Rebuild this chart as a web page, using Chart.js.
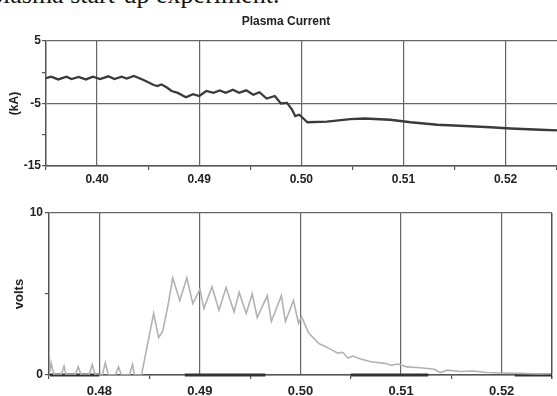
<!DOCTYPE html>
<html>
<head>
<meta charset="utf-8">
<title>Plasma Current</title>
<script src="https://cdn.jsdelivr.net/npm/chart.js@4.4.1/dist/chart.umd.min.js"></script>
<style>
  html, body { margin: 0; padding: 0; background: #fff; overflow: hidden; }
  body { width: 557px; height: 396px; position: relative; }
  .caption { position: absolute; left: -10px; top: -18px; font: 26px "Liberation Serif", serif; line-height: 26px; color: #111; white-space: nowrap; }
  #currentChart { position: absolute; left: 0; top: 0; }
  #voltChart { position: absolute; left: 0; top: 196px; }
</style>
</head>
<body>
<div class="caption">plasma start-up experiment.</div>
<canvas id="currentChart" width="572" height="196"></canvas>
<canvas id="voltChart" width="557" height="200"></canvas>
<script>
// === DATA ===
const xMajor = [0.48, 0.49, 0.50, 0.51, 0.52];
const xMinor = [0.475, 0.485, 0.495, 0.505, 0.515, 0.525];
const topXLabels = ["0.40", "0.49", "0.50", "0.51", "0.52"];
const bottomXLabels = ["0.48", "0.49", "0.50", "0.51", "0.52"];

const currentTicks = [-15, -10, -5, 0, 5];
const currentLabels = ["-15", "", "-5", "", "5"];
const voltTicks = [0, 5, 10];
const voltLabels = ["0", "", "10"];

// plasma current (kA) vs time (s)
const currentTime = [0.4750, 0.4755, 0.4762, 0.4770, 0.4775, 0.4782, 0.4789, 0.4796, 0.4803, 0.4811,
  0.4817, 0.4824, 0.4829, 0.4836, 0.4845, 0.4855, 0.4859, 0.4863, 0.4868, 0.4873,
  0.4879, 0.4887, 0.4894, 0.4900, 0.4907, 0.4914, 0.4920, 0.4926, 0.4933, 0.4939,
  0.4946, 0.4953, 0.4959, 0.4966, 0.4974, 0.4980, 0.4986, 0.4991, 0.4994, 0.4998,
  0.5002, 0.5006, 0.5025, 0.5048, 0.5062, 0.5087, 0.5107, 0.5133, 0.5160, 0.5185,
  0.5205, 0.5234, 0.5251];
const current = [-0.95, -0.7, -1.15, -0.7, -1.1, -0.75, -1.15, -0.7, -1.1, -0.65,
  -1.1, -0.7, -1.0, -0.6, -1.2, -2.0, -2.2, -1.95, -2.4, -3.0,
  -3.3, -4.0, -3.5, -3.8, -3.0, -3.3, -2.9, -3.3, -2.8, -3.3,
  -2.9, -3.6, -3.2, -4.2, -3.8, -5.0, -4.9, -6.0, -7.0, -6.8,
  -7.4, -8.0, -7.9, -7.5, -7.4, -7.6, -8.0, -8.4, -8.6, -8.8,
  -9.0, -9.2, -9.3];

// loop voltage (volts) vs time (s)
const voltTime = [0.4751, 0.4752, 0.4755, 0.4762, 0.4765, 0.4767, 0.4776, 0.4779, 0.4782, 0.4790,
  0.4793, 0.4796, 0.4803, 0.4806, 0.4809, 0.4816, 0.4819, 0.4822, 0.4830, 0.4833,
  0.4835, 0.4842, 0.4847, 0.4854, 0.4859, 0.4863, 0.4868, 0.4873, 0.4880, 0.4887,
  0.4893, 0.4900, 0.4904, 0.4912, 0.4919, 0.4926, 0.4934, 0.4939, 0.4946, 0.4952,
  0.4957, 0.4967, 0.4971, 0.4981, 0.4985, 0.4993, 0.4998, 0.5001, 0.5008, 0.5018,
  0.5025, 0.5031, 0.5037, 0.5042, 0.5047, 0.5052, 0.5059, 0.5070, 0.5084, 0.5090,
  0.5097, 0.5106, 0.5119, 0.5133, 0.5139, 0.5146, 0.5159, 0.5172, 0.5185, 0.5198,
  0.5218, 0.5237, 0.5249];
const volts = [0.2, 0.75, 0, 0, 0.55, 0, 0, 0.5, 0, 0,
  0.65, 0, 0, 0.75, 0, 0, 0.5, 0, 0, 0.65,
  0, 0, 1.6, 3.8, 2.3, 2.7, 4.2, 6.0, 4.6, 6.0,
  4.4, 5.3, 4.1, 5.45, 4.0, 5.4, 3.9, 5.1, 3.8, 5.0,
  3.55, 4.9, 3.3, 4.9, 3.3, 4.6, 3.2, 3.6, 2.6, 1.95,
  1.75, 1.55, 1.35, 1.4, 1.05, 1.17, 1.0, 0.82, 0.72, 0.6,
  0.68, 0.5, 0.45, 0.35, 0.15, 0.3, 0.22, 0.25, 0.15, 0.12,
  0.1, 0.06, 0.08];

// dark trace lying on the zero line (start, end in s)
const baseSegments = [[0.4751, 0.4800], [0.4885, 0.4965], [0.5050, 0.5127], [0.5213, 0.5250]];

// === STYLE HELPERS ===
const FONT = "'Liberation Sans', Arial, sans-serif";
const axisColor = "#555";
const gridColor = "#666";
const near = (a, b) => Math.abs(a - b) < 1e-6;
const xTicks = xMinor.concat(xMajor).sort((a, b) => a - b);

function xAxis(labels, max, height, size, pad, edgeLine) {
  return {
    type: "linear",
    min: 0.475,
    max: max,
    afterBuildTicks: axis => { axis.ticks = xTicks.map(v => ({ value: v })); },
    afterFit: axis => { axis.height = height; },
    border: { color: axisColor, width: 1.5 },
    grid: {
      color: c => {
        const v = c.tick ? c.tick.value : 0;
        if (xMajor.some(m => near(m, v))) return gridColor;
        if (edgeLine && near(v, 0.525)) return axisColor;
        return "transparent";
      },
      lineWidth: c => (c.tick && near(c.tick.value, 0.525)) ? 1.5 : 1.2,
      tickLength: 4,
      tickColor: c => (c.tick && xMinor.some(m => near(m, c.tick.value))) ? axisColor : "transparent"
    },
    ticks: {
      autoSkip: false,
      maxRotation: 0,
      padding: pad,
      color: "#222",
      font: { family: FONT, size: size, weight: "bold" },
      callback: value => {
        const i = xMajor.findIndex(m => near(m, value));
        return i >= 0 ? labels[i] : "";
      }
    }
  };
}

function yAxis(ticks, labels, title, titleSize, titlePad, width, pad) {
  return {
    min: ticks[0],
    max: ticks[ticks.length - 1],
    afterBuildTicks: axis => { axis.ticks = ticks.map(v => ({ value: v })); },
    afterFit: axis => { axis.width = width; },
    border: { color: axisColor, width: 1.5 },
    grid: {
      color: c => (labels[c.index] ? gridColor : "transparent"),
      lineWidth: 1.2,
      tickLength: 4,
      tickColor: axisColor
    },
    ticks: {
      padding: pad,
      color: "#222",
      font: { family: FONT, size: 12, weight: "bold" },
      callback: (value, i) => labels[i]
    },
    title: {
      display: true,
      text: title,
      color: "#222",
      padding: { top: titlePad, bottom: 0 },
      font: { family: FONT, size: titleSize, weight: "bold" }
    }
  };
}

const quiet = { legend: { display: false }, tooltip: { enabled: false } };

// === PLASMA CURRENT ===
new Chart(document.getElementById("currentChart"), {
  type: "line",
  data: {
    datasets: [{
      data: currentTime.map((t, i) => ({ x: t, y: current[i] })),
      borderColor: "#3a3a3a",
      borderWidth: 2.3,
      pointRadius: 0,
      tension: 0
    }]
  },
  options: {
    responsive: false,
    animation: false,
    plugins: {
      ...quiet,
      title: {
        display: true,
        text: "Plasma Current",
        color: "#222",
        font: { family: FONT, size: 12, weight: "bold" },
        padding: { top: 14, bottom: 12.6 }
      }
    },
    scales: {
      x: xAxis(topXLabels, 0.5265, 30, 12, 2, false),
      y: yAxis(currentTicks, currentLabels, "(kA)", 12, 7, 46, 1)
    }
  }
});

// === VOLTS ===
const segmentPoints = [];
baseSegments.forEach(([a, b]) => {
  segmentPoints.push({ x: a, y: 0 }, { x: b, y: 0 }, { x: b, y: null });
});

new Chart(document.getElementById("voltChart"), {
  type: "line",
  data: {
    datasets: [{
      data: voltTime.map((t, i) => ({ x: t, y: volts[i] })),
      borderColor: "#b2b2b2",
      borderWidth: 1.6,
      pointRadius: 0,
      tension: 0
    }, {
      data: segmentPoints,
      borderColor: "#333",
      borderWidth: 3,
      pointRadius: 0,
      spanGaps: false,
      clip: 3
    }]
  },
  options: {
    responsive: false,
    animation: false,
    layout: { padding: { top: 17, right: 2 } },
    plugins: quiet,
    scales: {
      x: xAxis(bottomXLabels, 0.525, 21, 13, 5, true),
      y: yAxis(voltTicks, voltLabels, "volts", 13, 12, 49, 2)
    }
  }
});
</script>
</body>
</html>
